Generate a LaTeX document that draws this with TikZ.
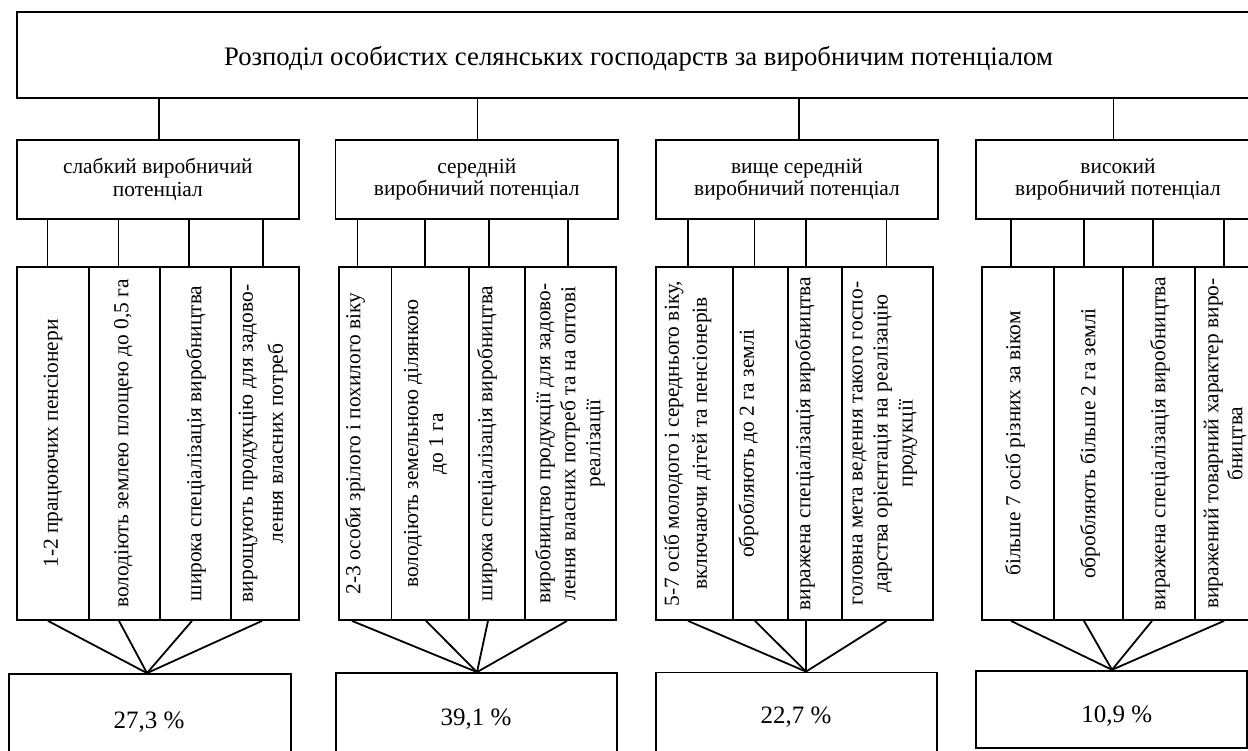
\documentclass[tikz,border=0pt]{standalone}
\usepackage{fontspec}
\setmainfont{Liberation Serif}
\newcommand\mkbox[5]{\node[bx,minimum width={#4-#2},minimum height={#5-#3}] (#1) at ({(#2+#4)/2},{(#3+#5)/2}) {};}
\begin{document}
\begin{tikzpicture}[x=1pt,y=-1pt,
  bx/.style={draw,line width=1.8pt,inner sep=0pt},
  ln/.style={line width=1.8pt},
  lvl/.style={bx,align=center,font=\fontsize{21.4}{22.3}\selectfont},
  vtx/.style={rotate=90,align=center,inner sep=0pt,font=\fontsize{21.4}{#1}\selectfont},
  vtx/.default=25,
  pct/.style={anchor=base,inner sep=0pt,font=\fontsize{25}{30}\selectfont}]
\useasboundingbox (0,0) rectangle (1248,750);
\clip (0,0) rectangle (1248,750);
% title
\mkbox{T}{16.7}{11.7}{1260}{97.7}
\node[anchor=base,inner sep=0pt,font=\fontsize{26.7}{30}\selectfont] (Tt) at (638.5,65.7) {Розподіл особистих селянських господарств за виробничим потенціалом};
% level 2
\node[lvl,minimum width=282.3,minimum height=79] (L1) at (157.85,179.5) {слабкий виробничий\\потенціал};
\node[lvl,minimum width=282.5,minimum height=79] (L2) at (476.75,179.5) {середній\\виробничий потенціал};
\node[lvl,minimum width=282,minimum height=79] (L3) at (797,179.5) {вище середній\\виробничий потенціал};
\node[lvl,minimum width=284,minimum height=79] (L4) at (1118,179.5) {високий\\виробничий потенціал};
\draw[ln] (T.south -| 159,0) -- (L1.north -| 159,0);
\draw[ln] (T.south -| 477.5,0) -- (L2.north -| 477.5,0);
\draw[ln] (T.south -| 799,0) -- (L3.north -| 799,0);
\draw[ln] (T.south -| 1113.5,0) -- (L4.north -| 1113.5,0);
% detail boxes
\mkbox{A1}{16.7}{267}{89}{620}
\mkbox{A2}{89}{267}{160}{620}
\mkbox{A3}{160}{267}{231}{620}
\mkbox{A4}{231}{267}{299}{620}
\mkbox{B1}{339}{267}{391.5}{620}
\mkbox{B2}{391.5}{267}{469}{620}
\mkbox{B3}{469}{267}{525}{620}
\mkbox{B4}{525}{267}{615.7}{620}
\mkbox{C1}{656}{267}{733}{620}
\mkbox{C2}{733}{267}{788}{620}
\mkbox{C3}{788}{267}{842}{620}
\mkbox{C4}{842}{267}{932.7}{620}
\mkbox{D1}{982}{267}{1054}{620}
\mkbox{D2}{1054}{267}{1123}{620}
\mkbox{D3}{1123}{267}{1195}{620}
\mkbox{D4}{1195}{267}{1253}{620}
% connectors level 2 -> details
\draw[ln] (L1.south -| 47.5,0) -- (A1.north -| 47.5,0);
\draw[ln] (L1.south -| 118.5,0) -- (A2.north -| 118.5,0);
\draw[ln] (L1.south -| 189,0) -- (A3.north -| 189,0);
\draw[ln] (L1.south -| 263,0) -- (A4.north -| 263,0);
\draw[ln] (L2.south -| 357.5,0) -- (B1.north -| 357.5,0);
\draw[ln] (L2.south -| 425,0) -- (B2.north -| 425,0);
\draw[ln] (L2.south -| 489,0) -- (B3.north -| 489,0);
\draw[ln] (L2.south -| 568,0) -- (B4.north -| 568,0);
\draw[ln] (L3.south -| 688,0) -- (C1.north -| 688,0);
\draw[ln] (L3.south -| 754.5,0) -- (C2.north -| 754.5,0);
\draw[ln] (L3.south -| 806,0) -- (C3.north -| 806,0);
\draw[ln] (L3.south -| 886.5,0) -- (C4.north -| 886.5,0);
\draw[ln] (L4.south -| 1011,0) -- (D1.north -| 1011,0);
\draw[ln] (L4.south -| 1084,0) -- (D2.north -| 1084,0);
\draw[ln] (L4.south -| 1153,0) -- (D3.north -| 1153,0);
\draw[ln] (L4.south -| 1224,0) -- (D4.north -| 1224,0);
% vertical texts
\node[vtx] (A1t) at (53,443.5) {1-2 працюючих пенсіонери};
\node[vtx] (A2t) at (123.5,443.5) {володіють землею площею до 0,5 га};
\node[vtx] (A3t) at (196,443.5) {широка спеціалізація виробництва};
\node[vtx=30] (A4t) at (263,443.5) {вирощують продукцію для задово-\\лення власних потреб};
\node[vtx] (B1t) at (355,443.5) {2-3 особи зрілого і похилого віку};
\node[vtx] (B2t) at (425.5,443.5) {володіють земельною ділянкою\\до 1 га};
\node[vtx] (B3t) at (487,443.5) {широка спеціалізація виробництва};
\node[vtx] (B4t) at (570,443.5) {виробництво продукції для задово-\\лення власних потреб та на оптові\\реалізації};
\node[vtx=28] (C1t) at (687.5,443.5) {5-7 осіб молодого і середнього віку,\\включаючи дітей та пенсіонерів};
\node[vtx] (C2t) at (748.5,443.5) {обробляють до 2 га землі};
\node[vtx] (C3t) at (805,443.5) {виражена спеціалізація виробництва};
\node[vtx] (C4t) at (885,443.5) {головна мета ведення такого госпо-\\дарства орієнтація на реалізацію\\продукції};
\node[vtx] (D1t) at (1015,443.5) {більше 7 осіб різних за віком};
\node[vtx] (D2t) at (1090,443.5) {обробляють більше 2 га землі};
\node[vtx] (D3t) at (1160,443.5) {виражена спеціалізація виробництва};
\node[vtx=24] (D4t) at (1225,443.5) {виражений товарний характер виро-\\бництва};
% percentage boxes
\mkbox{P1}{9.3}{674}{291}{765}
\mkbox{P2}{335.7}{673}{616.7}{765}
\mkbox{P3}{656}{672.5}{937}{765}
\mkbox{P4}{975.7}{670.7}{1247}{748.3}
\coordinate (fA) at (P1.north -| 147,0);
\coordinate (fB) at (P2.north -| 477,0);
\coordinate (fC) at (P3.north -| 806,0);
\coordinate (fD) at (P4.north -| 1112,0);
\draw[ln] (A1.south -| 48,0) -- (fA);
\draw[ln] (A2.south -| 119,0) -- (fA);
\draw[ln] (A3.south -| 192,0) -- (fA);
\draw[ln] (A4.south -| 262,0) -- (fA);
\draw[ln] (B1.south -| 352,0) -- (fB);
\draw[ln] (B2.south -| 426,0) -- (fB);
\draw[ln] (B3.south -| 488,0) -- (fB);
\draw[ln] (B4.south -| 567,0) -- (fB);
\draw[ln] (C1.south -| 688,0) -- (fC);
\draw[ln] (C2.south -| 755,0) -- (fC);
\draw[ln] (C3.south -| 806,0) -- (fC);
\draw[ln] (C4.south -| 886.5,0) -- (fC);
\draw[ln] (D1.south -| 1011,0) -- (fD);
\draw[ln] (D2.south -| 1084,0) -- (fD);
\draw[ln] (D3.south -| 1152,0) -- (fD);
\draw[ln] (D4.south -| 1224,0) -- (fD);
\node[pct] (P1t) at (149,728) {27,3 \%};
\node[pct] (P2t) at (476,725) {39,1 \%};
\node[pct] (P3t) at (796,723) {22,7 \%};
\node[pct] (P4t) at (1116.7,722.7) {10,9 \%};
\end{tikzpicture}
\end{document}
